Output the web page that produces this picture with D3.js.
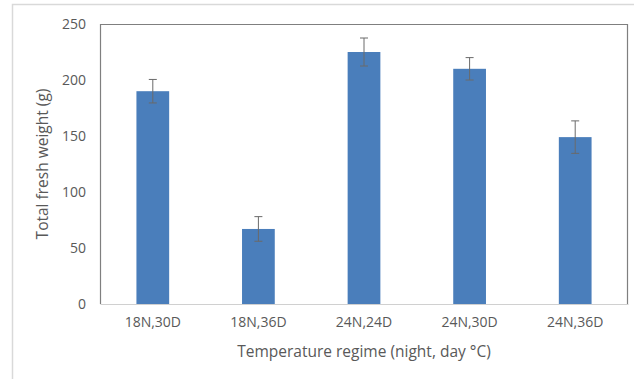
<!DOCTYPE html>
<html>
<head>
<meta charset="utf-8">
<script src="https://cdn.jsdelivr.net/npm/d3@7"></script>
<style>
  html, body { margin: 0; padding: 0; background: #fff; }
  svg { display: block; }
  text { font-family: "Open Sans", "Noto Sans", sans-serif; fill: #595959; }
</style>
</head>
<body>
<svg id="chart" width="634" height="379"></svg>
<script>
// Fresh weight by temperature regime, with error bars
const categories = ["18N,30D", "18N,36D", "24N,24D", "24N,30D", "24N,36D"];
const values = [190, 67, 225, 210, 149];
const errors = [10.5, 11, 12.5, 10, 14.5];
const yTicks = [0, 50, 100, 150, 200, 250];

const svg = d3.select("#chart");
const W = 634, H = 379;
const m = { left: 100, right: 6, top: 24, bottom: 75 };
const iw = W - m.left - m.right;
const ih = H - m.top - m.bottom;

// outer chart-area frame
svg.append("path")
  .attr("d", `M12.5,${H} V4.5 H${W}`)
  .attr("fill", "none").attr("stroke", "#d9d9d9").attr("stroke-width", 1.5);

const g = svg.append("g").attr("transform", `translate(${m.left},${m.top})`);

const x = d3.scaleBand().domain(categories).range([0, iw]).paddingInner(0.69).paddingOuter(0.345);
const y = d3.scaleLinear().domain([0, 250]).range([ih, 0]);

// plot frame: dark on left, top, right
g.append("path")
  .attr("d", `M0.5,${ih} V0.5 H${iw - 0.5} V${ih}`)
  .attr("fill", "none").attr("stroke", "#7f7f7f").attr("stroke-width", 1.2);

// bars
g.selectAll("rect.bar").data(values).join("rect")
  .attr("class", "bar")
  .attr("x", (d, i) => x(categories[i]))
  .attr("width", x.bandwidth())
  .attr("y", d => y(d))
  .attr("height", d => y(0) - y(d))
  .attr("fill", "#4a7ebb");

// error bars
const eb = g.selectAll("g.err").data(values).join("g").attr("class", "err")
  .attr("transform", (d, i) => `translate(${x(categories[i]) + x.bandwidth() / 2},0)`);
eb.append("line")
  .attr("y1", (d, i) => y(d + errors[i])).attr("y2", (d, i) => y(d - errors[i]))
  .attr("stroke", "#6a6a6a").attr("stroke-width", 1);
eb.append("line")
  .attr("x1", -4).attr("x2", 4)
  .attr("y1", (d, i) => y(d + errors[i])).attr("y2", (d, i) => y(d + errors[i]))
  .attr("stroke", "#6a6a6a").attr("stroke-width", 1);
eb.append("line")
  .attr("x1", -4).attr("x2", 4)
  .attr("y1", (d, i) => y(d - errors[i])).attr("y2", (d, i) => y(d - errors[i]))
  .attr("stroke", "#6a6a6a").attr("stroke-width", 1);

// x axis
const xAxis = g.append("g").attr("transform", `translate(0,${ih})`)
  .call(d3.axisBottom(x).tickSize(0).tickPadding(13));
xAxis.select(".domain").attr("stroke", "#d0d0d0").attr("stroke-width", 1.2);
xAxis.selectAll("text").style("font-size", "14px").attr("fill", "#595959");

// y axis
const yAxis = g.append("g")
  .call(d3.axisLeft(y).tickValues(yTicks).tickSize(0).tickPadding(14));
yAxis.select(".domain").remove();
yAxis.selectAll("text").style("font-size", "14px").attr("fill", "#595959");

// axis titles
svg.append("text")
  .attr("x", m.left + iw / 2).attr("y", 357)
  .attr("text-anchor", "middle").style("font-size", "15.5px")
  .text("Temperature regime (night, day °C)");
svg.append("text")
  .attr("transform", `translate(48,${m.top + ih / 2}) rotate(-90)`)
  .attr("text-anchor", "middle").style("font-size", "15.5px")
  .text("Total fresh weight (g)");
</script>
</body>
</html>
